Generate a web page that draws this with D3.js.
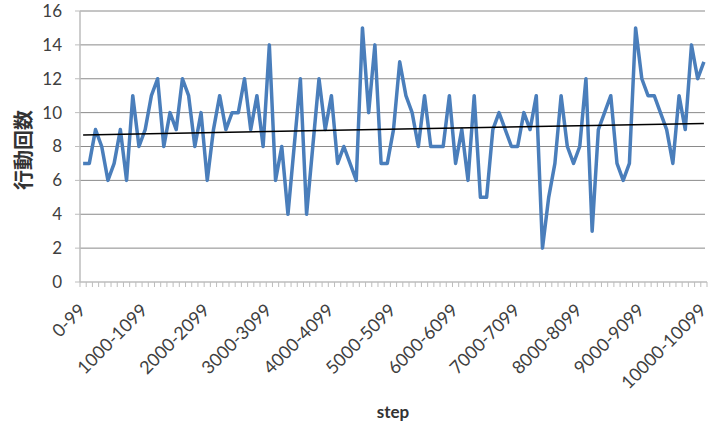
<!DOCTYPE html>
<html>
<head>
<meta charset="utf-8">
<script src="https://cdn.jsdelivr.net/npm/d3@7"></script>
<style>
  body { margin: 0; background: #fff; }
  svg { display: block; font-family: Lato, "Open Sans", sans-serif; }
</style>
</head>
<body>
<svg id="chart" width="713" height="424"></svg>
<script>
// step buckets of 100, 0-99 ... 10000-10099
const steps = d3.range(0, 10001, 100).map((s) => `${s}-${s + 99}`);

// action counts per bucket
const counts = [
  7, 7, 9, 8, 6, 7, 9, 6, 11, 8,
  9, 11, 12, 8, 10, 9, 12, 11, 8, 10,
  6, 9, 11, 9, 10, 10, 12, 9, 11, 8,
  14, 6, 8, 4, 8, 12, 4, 8, 12, 9,
  11, 7, 8, 7, 6, 15, 10, 14, 7, 7,
  9, 13, 11, 10, 8, 11, 8, 8, 8, 11,
  7, 9, 6, 11, 5, 5, 9, 10, 9, 8,
  8, 10, 9, 11, 2, 5, 7, 11, 8, 7,
  8, 12, 3, 9, 10, 11, 7, 6, 7, 15,
  12, 11, 11, 10, 9, 7, 11, 9, 14, 12,
  13,
];

const yTicks = [0, 2, 4, 6, 8, 10, 12, 14, 16];
const labelEvery = 10;

const svg = d3.select('#chart');
const plotL = 80, plotR = 707, plotT = 11, plotB = 282;

const x = d3.scaleBand().domain(steps).range([plotL, plotR]).padding(0);
const cx = (d) => x(d) + x.bandwidth() / 2;
const y = d3.scaleLinear().domain([0, 16]).range([plotB, plotT]);

// gridlines
svg.append('g')
  .selectAll('line')
  .data(yTicks.slice(1))
  .join('line')
  .attr('x1', plotL)
  .attr('x2', plotR - 2)
  .attr('y1', (d) => y(d))
  .attr('y2', (d) => y(d))
  .attr('stroke', '#8a8a8a')
  .attr('stroke-width', 1);

// y axis
const yAxis = svg.append('g').attr('transform', `translate(${plotL},0)`);
yAxis.append('line')
  .attr('y1', plotT).attr('y2', plotB)
  .attr('stroke', '#bdbdbd').attr('stroke-width', 1.5);
yAxis.selectAll('line.tick')
  .data(yTicks)
  .join('line')
  .attr('class', 'tick')
  .attr('x1', -5).attr('x2', 0)
  .attr('y1', (d) => y(d)).attr('y2', (d) => y(d))
  .attr('stroke', '#bdbdbd');
yAxis.selectAll('text')
  .data(yTicks)
  .join('text')
  .attr('x', -18)
  .attr('y', (d) => y(d))
  .attr('dy', '0.35em')
  .attr('text-anchor', 'end')
  .attr('fill', '#404040')
  .attr('font-size', 17)
  .text((d) => d);

// x axis
const xAxis = svg.append('g');
xAxis.append('line')
  .attr('x1', plotL).attr('x2', plotR)
  .attr('y1', plotB).attr('y2', plotB)
  .attr('stroke', '#bdbdbd').attr('stroke-width', 1.5);
xAxis.selectAll('line.tick')
  .data(steps.concat(['end']))
  .join('line')
  .attr('class', 'tick')
  .attr('x1', (d) => (d === 'end' ? plotR : x(d)))
  .attr('x2', (d) => (d === 'end' ? plotR : x(d)))
  .attr('y1', plotB).attr('y2', plotB + 5)
  .attr('stroke', '#bdbdbd');
xAxis.selectAll('text')
  .data(steps.filter((d, i) => i % labelEvery === 0))
  .join('text')
  .attr('transform', (d) => `translate(${cx(d) - 1},${plotB + 25}) rotate(-45)`)
  .attr('text-anchor', 'end')
  .attr('dy', '0.35em')
  .attr('fill', '#404040')
  .attr('font-size', 18)
  .text((d) => d);

// series line
const line = d3.line()
  .x((d, i) => cx(steps[i]))
  .y((d) => y(d));

svg.append('path')
  .datum(counts)
  .attr('fill', 'none')
  .attr('stroke', '#4a7ebb')
  .attr('stroke-width', 3.5)
  .attr('stroke-linejoin', 'round')
  .attr('d', line);

// linear trendline (least squares over the series)
const n = counts.length;
const mx = d3.mean(d3.range(n));
const my = d3.mean(counts);
const slope = d3.sum(counts, (v, i) => (i - mx) * (v - my)) /
  d3.sum(d3.range(n), (i) => (i - mx) * (i - mx));
const icpt = my - slope * mx;

svg.append('line')
  .attr('x1', cx(steps[0]))
  .attr('x2', cx(steps[n - 1]))
  .attr('y1', y(icpt))
  .attr('y2', y(icpt + slope * (n - 1)))
  .attr('stroke', '#000')
  .attr('stroke-width', 1.5);

// axis titles
svg.append('text')
  .attr('transform', `translate(31,150) rotate(-90)`)
  .attr('text-anchor', 'middle')
  .attr('font-family', '"Noto Sans CJK JP", sans-serif')
  .attr('font-weight', 'bold')
  .attr('font-size', 20)
  .attr('fill', '#333')
  .text('行動回数');

svg.append('text')
  .attr('x', 393)
  .attr('y', 418)
  .attr('text-anchor', 'middle')
  .attr('font-weight', 'bold')
  .attr('font-size', 17)
  .attr('fill', '#333')
  .text('step');
</script>
</body>
</html>
